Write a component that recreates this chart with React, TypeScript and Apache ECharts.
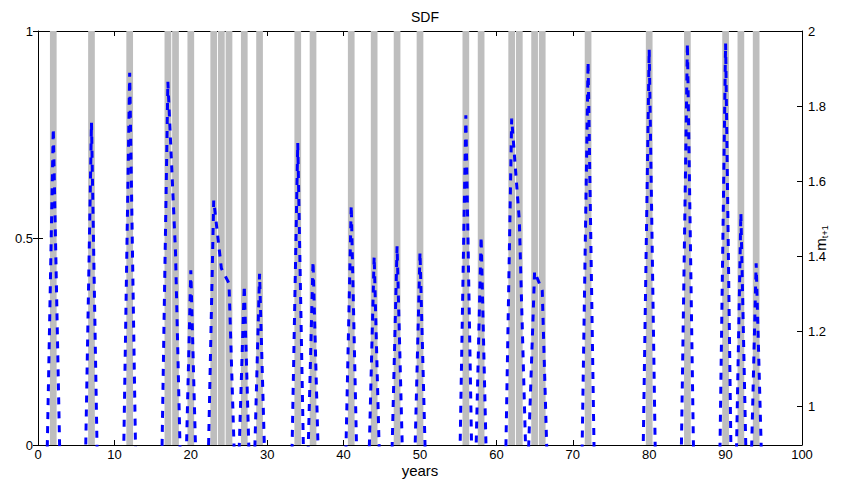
import React, { useEffect, useRef } from 'react';
import * as echarts from 'echarts';

// Crisis (shaded) years
const crisisYears = [2, 7, 12, 17, 18, 20, 23, 24, 25, 27, 29, 34, 36, 41, 44, 47, 50, 56, 58, 62, 63, 65, 66, 72, 80, 85, 90, 92, 94];

// Years 0..100
const years = [
  0, 1, 2, 3, 4, 5, 6, 7, 8, 9,
  10, 11, 12, 13, 14, 15, 16, 17, 18, 19,
  20, 21, 22, 23, 24, 25, 26, 27, 28, 29,
  30, 31, 32, 33, 34, 35, 36, 37, 38, 39,
  40, 41, 42, 43, 44, 45, 46, 47, 48, 49,
  50, 51, 52, 53, 54, 55, 56, 57, 58, 59,
  60, 61, 62, 63, 64, 65, 66, 67, 68, 69,
  70, 71, 72, 73, 74, 75, 76, 77, 78, 79,
  80, 81, 82, 83, 84, 85, 86, 87, 88, 89,
  90, 91, 92, 93, 94, 95, 96, 97, 98, 99,
  100,
];

// SDF m_{t+1} (right axis)
const sdf = [
  0.64, 0.66, 1.741, 0.72, 0.63, 0.60, 0.61, 1.756, 0.57, 0.62,
  0.65, 0.60, 1.889, 0.58, 0.63, 0.66, 0.59, 1.865, 1.411, 0.53,
  1.363, 0.60, 0.58, 1.549, 1.368, 1.328, 0.67, 1.323, 0.60, 1.354,
  0.62, 0.64, 0.60, 0.61, 1.702, 0.60, 1.387, 0.63, 0.65, 0.62,
  0.60, 1.536, 0.61, 0.60, 1.400, 0.62, 0.60, 1.427, 0.64, 0.60,
  1.411, 0.63, 0.66, 0.62, 0.64, 0.60, 1.776, 0.60, 1.453, 0.58,
  0.63, 0.61, 1.767, 1.496, 0.76, 1.360, 1.309, 0.60, 0.64, 0.62,
  0.65, 0.60, 1.918, 0.60, 0.63, 0.66, 0.62, 0.64, 0.61, 0.60,
  1.951, 0.60, 0.64, 0.62, 0.60, 1.967, 0.61, 0.63, 0.65, 0.50,
  1.967, 0.42, 1.515, 0.55, 1.382, 0.64, 0.64, 0.61, 0.63, 0.66,
  0.62,
];

const leftTicks = [0, 0.5, 1];
const rightTicks = [1, 1.2, 1.4, 1.6, 1.8, 2];

const FONT = '"Liberation Sans", Arial, Helvetica, sans-serif';

export default function App() {
  const ref = useRef<HTMLDivElement>(null);

  useEffect(() => {
    document.body.style.margin = '0';
    if (!ref.current) return;
    const chart = echarts.init(ref.current, undefined, { renderer: 'svg' });

    const tickCommon = { inside: true, length: 5, lineStyle: { color: '#000', width: 1 } };
    const lineCommon = { show: true, lineStyle: { color: '#000', width: 1 } };
    const labelCommon = { color: '#000', fontSize: 13, fontFamily: FONT };

    chart.setOption({
      animation: false,
      backgroundColor: '#fff',
      title: {
        text: 'SDF',
        left: 420,
        textAlign: 'center',
        top: 5,
        textStyle: { fontSize: 14, fontWeight: 'normal', color: '#000', fontFamily: FONT },
      },
      grid: { left: 38, right: 61, top: 31, bottom: 37, containLabel: false, outerBoundsMode: 'none' },
      xAxis: [
        {
          type: 'value',
          min: 0,
          max: 100,
          interval: 10,
          position: 'bottom',
          name: 'years',
          nameLocation: 'middle',
          nameGap: 18,
          nameMoveOverlap: false,
          nameTextStyle: { fontSize: 15, color: '#000', fontFamily: FONT },
          axisLine: { ...lineCommon, onZero: false },
          axisTick: tickCommon,
          axisLabel: { ...labelCommon, margin: 3 },
          splitLine: { show: false },
        },
        {
          type: 'value',
          min: 0,
          max: 100,
          interval: 10,
          position: 'top',
          axisLine: { ...lineCommon, onZero: false },
          axisTick: tickCommon,
          axisLabel: { show: false },
          splitLine: { show: false },
        },
      ],
      yAxis: [
        {
          type: 'value',
          min: 0,
          max: 1,
          interval: 0.5,
          position: 'left',
          axisLine: { ...lineCommon, onZero: false },
          axisTick: { ...tickCommon, customValues: leftTicks },
          axisLabel: { ...labelCommon, margin: 5, customValues: leftTicks },
          splitLine: { show: false },
        },
        {
          type: 'value',
          min: 0.898,
          max: 2,
          position: 'right',
          name: '{m|m}{s|t+1}',
          nameLocation: 'middle',
          nameRotate: 90,
          nameGap: 9,
          nameMoveOverlap: false,
          nameTextStyle: {
            color: '#000',
            fontFamily: FONT,
            rich: {
              m: { fontSize: 15, color: '#000', fontFamily: FONT, verticalAlign: 'middle' },
              s: { fontSize: 9, color: '#000', fontFamily: FONT, verticalAlign: 'bottom', padding: [9, 0, 0, 0] },
            },
          },
          axisLine: { ...lineCommon, onZero: false },
          axisTick: { ...tickCommon, customValues: rightTicks },
          axisLabel: { ...labelCommon, margin: 6, customValues: rightTicks },
          splitLine: { show: false },
        },
        {
          type: 'value',
          min: 0,
          max: 1,
          interval: 0.5,
          position: 'right',
          axisLine: { show: false },
          axisTick: { ...tickCommon, customValues: leftTicks },
          axisLabel: { show: false },
          splitLine: { show: false },
        },
      ],
      series: [
        {
          type: 'bar',
          xAxisIndex: 0,
          yAxisIndex: 0,
          data: crisisYears.map((y) => [y, 1]),
          barWidth: 6.7,
          itemStyle: { color: '#bebebe' },
          z: 1,
          silent: true,
        },
        {
          type: 'line',
          xAxisIndex: 0,
          yAxisIndex: 1,
          data: years.map((y, i) => [y, sdf[i]]),
          showSymbol: false,
          symbol: 'none',
          clip: true,
          lineStyle: { color: '#0000ff', width: 3, type: [7, 7] },
          z: 3,
          silent: true,
        },
      ],
    });

    return () => chart.dispose();
  }, []);

  return <div ref={ref} style={{ width: 863, height: 482 }} />;
}
